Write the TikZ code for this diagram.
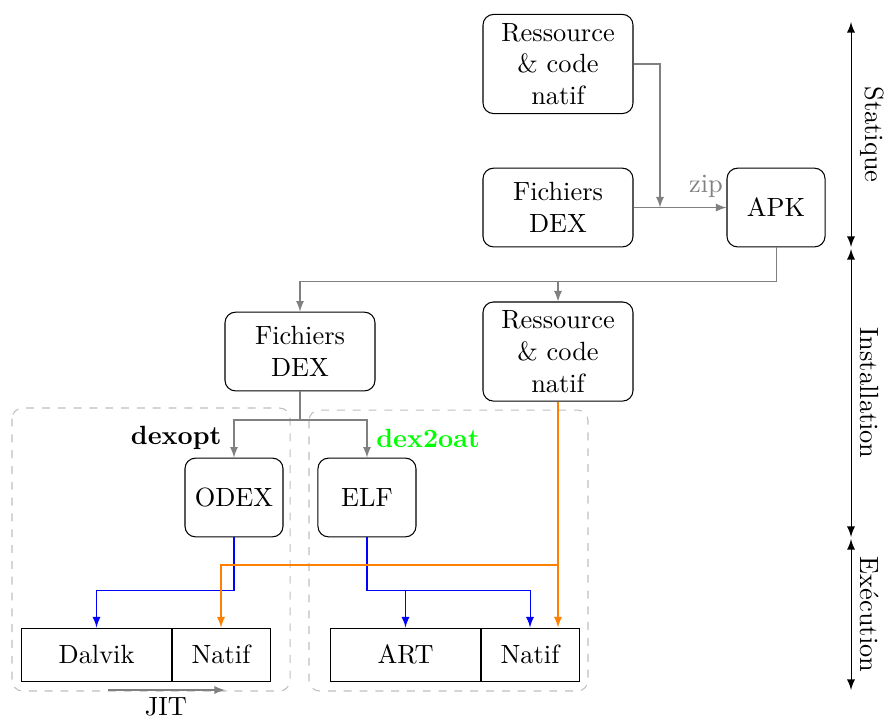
\documentclass[tikz,border=0pt]{standalone}
\usetikzlibrary{arrows}

\begin{document}
\begin{tikzpicture}[>=latex,
	box/.style={draw, rounded corners, align=center, minimum width=2cm, minimum height=1.05cm},
	smallbox/.style={box, minimum width=1.307cm},
	runbox/.style={draw, minimum height=0.707cm, minimum width=2.013cm},
	link/.style={->, gray}]
		\useasboundingbox (0,0) rectangle (11.8,-9.6);

		% STATIC PART
		\node[box] (res1) at (7.44,-0.853) {Ressource\\ \& code\\ natif};
		\node[box] (dex1) at (7.44,-2.767) {Fichiers\\ DEX};
		\node[smallbox] (apk) at (10.347,-2.767) {APK};

		\coordinate (zipjoin) at (8.8,-2.767);
		\draw[link] (res1.east) -| (zipjoin);
		\draw[link] (dex1.east) -- (apk.west);
		\node[gray] (zip) at (9.413,-2.48) {zip};

		% INSTALLATION
		\node[box] (dex2) at (4.0,-4.687) {Fichiers\\ DEX};
		\node[box, minimum height=1.32cm] (res2) at (7.44,-4.687) {Ressource\\ \& code\\ natif};

		\coordinate (apkdown) at (10.347,-3.747);
		\draw[link] (apk.south) -- (apkdown) -| (dex2.north);
		\draw[link] (res2.north |- apkdown) -- (res2.north);

		\draw[dashed, gray!50, rounded corners] (0.16,-5.44) rectangle (3.867,-9.213);
		\draw[dashed, gray!50, rounded corners] (4.12,-5.467) rectangle (7.84,-9.213);

		\node[smallbox] (odex) at (3.12,-6.633) {ODEX};
		\node[smallbox] (elf) at (4.893,-6.633) {ELF};
		\node[anchor=east] (dexopt) at (3.077,-5.84) {\textbf{dexopt}};
		\node[anchor=west, green] (dex2oat) at (4.893,-5.84) {\textbf{dex2oat}};

		\coordinate (dexsplit) at (4.0,-5.6);
		\draw[link] (dex2.south) -- (dexsplit) -| (odex.north);
		\draw[link] (dexsplit) -| (elf.north);

		% EXECUTION
		\node[runbox] (dalvik) at (1.287,-8.727) {Dalvik};
		\node[runbox, minimum width=1.307cm] (natif1) at (2.947,-8.727) {Natif};
		\node[runbox] (art) at (5.407,-8.727) {ART};
		\node[runbox, minimum width=1.307cm] (natif2) at (7.067,-8.727) {Natif};

		\coordinate (odexdown) at (3.12,-7.867);
		\draw[->, blue] (odex.south) -- (odexdown) -| (dalvik.north);

		\coordinate (elfdown) at (4.893,-7.867);
		\draw[->, blue] (elf.south) -- (elfdown) -| (natif2.north);
		\draw[->, blue] (art.north |- elfdown) -- (art.north);

		\coordinate (natdown) at (7.44,-7.533);
		\draw[->, orange] (res2.south) -- (natdown) -| (natif1.north);
		\draw[->, orange] (natdown) -- (natdown |- natif2.north);

		\coordinate (jitstart) at (1.44,-9.2);
		\coordinate (jitend) at (3.0,-9.2);
		\draw[link] (jitstart) -- (jitend);
		\node (jit) at (2.213,-9.43) {JIT};

		% PHASES
		\coordinate (stattop) at (11.347,-0.293);
		\coordinate (statbot) at (11.347,-3.293);
		\coordinate (insttop) at (11.347,-3.32);
		\coordinate (instbot) at (11.347,-7.16);
		\coordinate (exectop) at (11.347,-7.187);
		\coordinate (execbot) at (11.347,-9.2);
		\draw[<->] (stattop) -- (statbot) node[midway, anchor=south, rotate=-90] (statlbl) {Statique};
		\draw[<->] (insttop) -- (instbot) node[midway, anchor=south, rotate=-90] (instlbl) {Installation};
		\draw[<->] (exectop) -- (execbot) node[midway, anchor=south, rotate=-90] (execlbl) {Exécution};
\end{tikzpicture}
\end{document}
